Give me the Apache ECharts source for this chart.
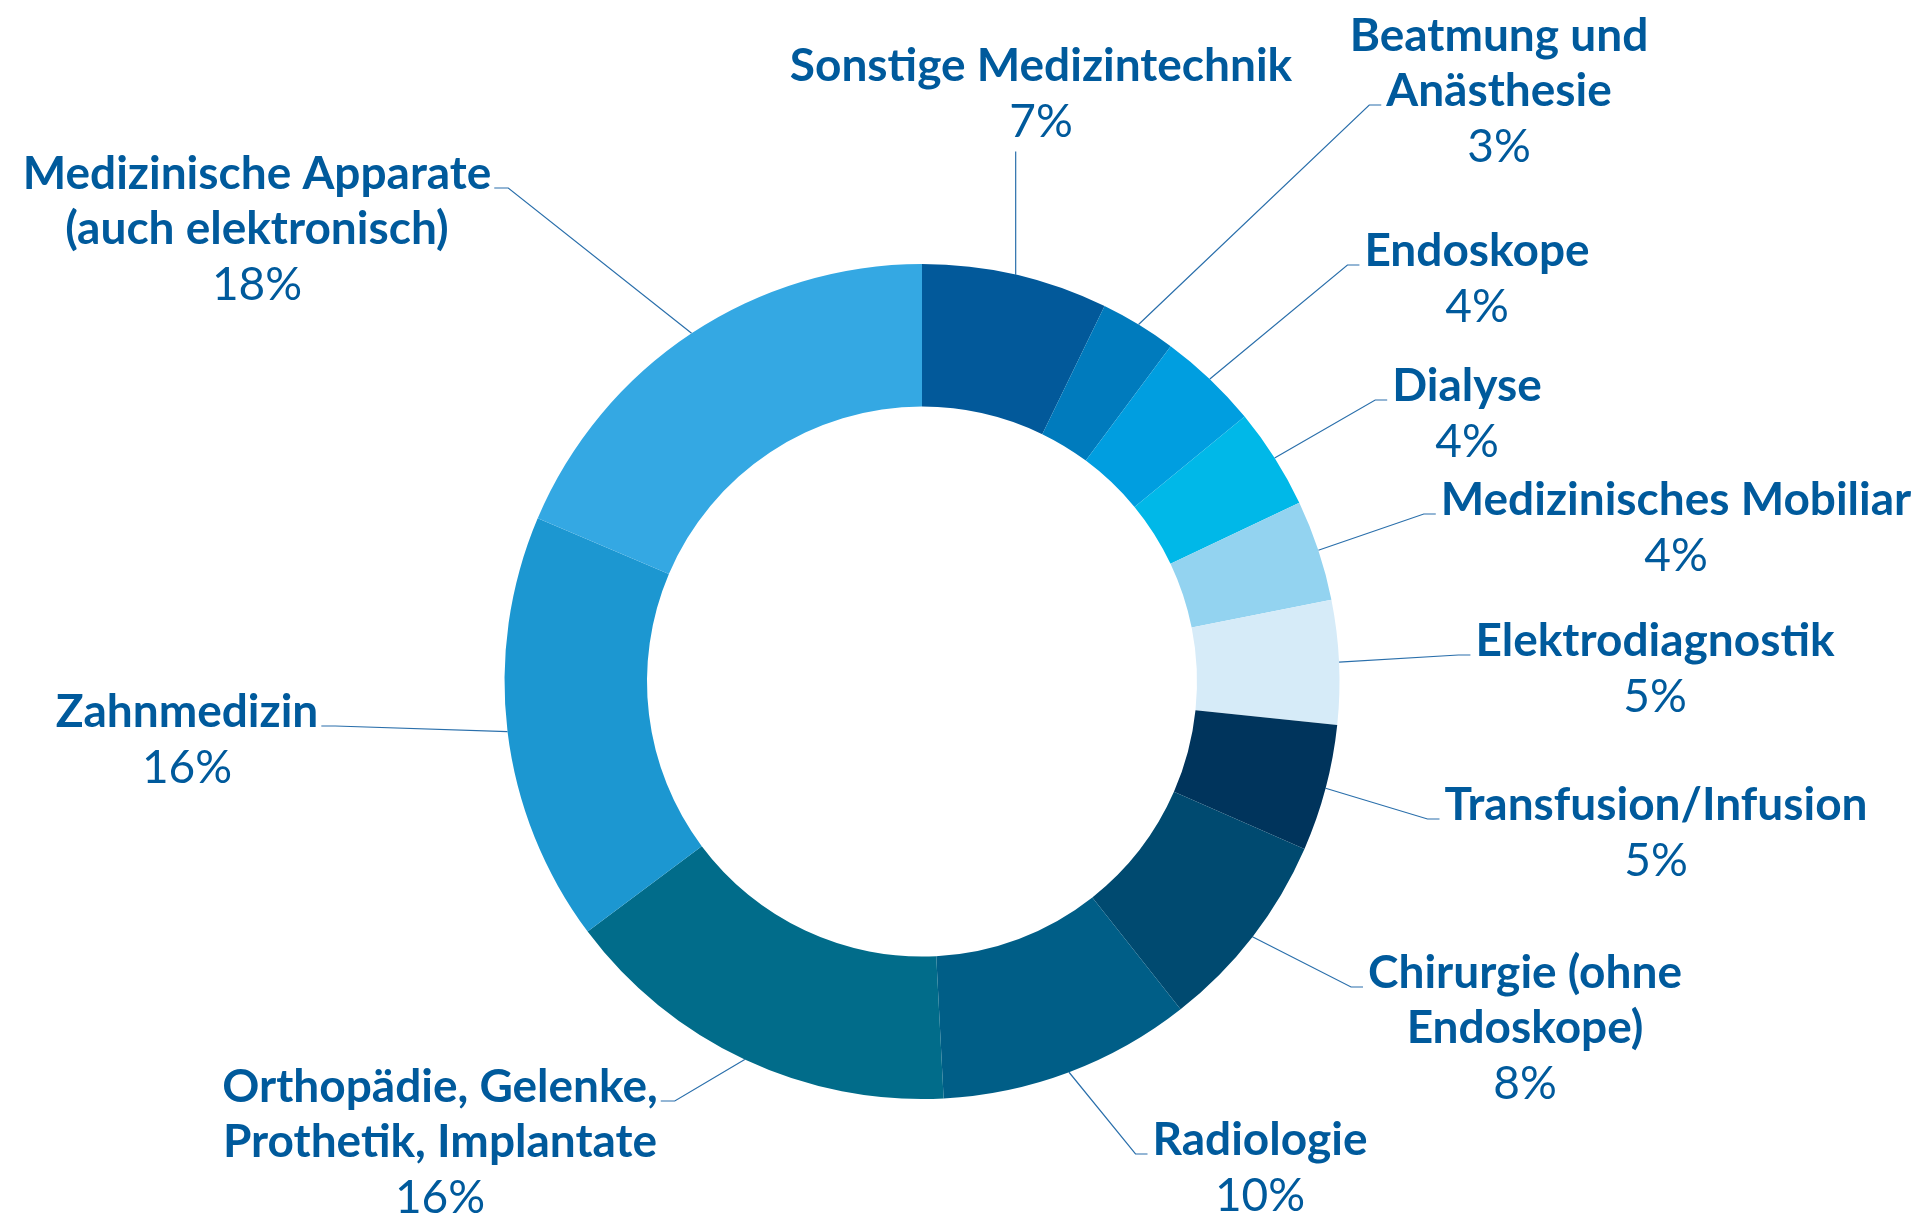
<!DOCTYPE html>
<html>
<head>
<meta charset="utf-8">
<title>Medizintechnik nach Produktgruppen</title>
<script src="https://cdn.jsdelivr.net/npm/echarts@6/dist/echarts.min.js"></script>
<style>
  html, body { margin: 0; padding: 0; background: #fff; }
  #chart { width: 1922px; height: 1215px; }
</style>
</head>
<body>
<div id="chart"></div>
<script>
// Segmente im Uhrzeigersinn ab 12 Uhr
var names = [
    'Sonstige Medizintechnik',
    'Beatmung und\nAnästhesie',
    'Endoskope',
    'Dialyse',
    'Medizinisches Mobiliar',
    'Elektrodiagnostik',
    'Transfusion/Infusion',
    'Chirurgie (ohne\nEndoskope)',
    'Radiologie',
    'Orthopädie, Gelenke,\nProthetik, Implantate',
    'Zahnmedizin',
    'Medizinische Apparate\n(auch elektronisch)'
];
var shares = [7.2, 2.95, 3.9, 3.9, 3.9, 4.8, 4.9, 7.8, 9.8, 15.6, 16.6, 18.6];
// beschriftete Prozentwerte
var pctLabels = [7, 3, 4, 4, 4, 5, 5, 8, 10, 16, 16, 18];

var colors = ['#02599a', '#007bbd', '#009ee0', '#00b8e8', '#93d3f0', '#d6ebf8',
              '#00345c', '#004a70', '#005e87', '#016c8a', '#1c97d1', '#34a8e3'];

// Beschriftung: Mitte x, Mitte erste Zeile y, Anschluss der Linie, Zeile fuer die Linie
var labelSpots = [
    [1041, 66, 'bottom', 0],
    [1499, 36, 'left', 1],
    [1477, 251, 'left', 0],
    [1467, 386, 'left', 0],
    [1676, 500, 'left', 0],
    [1655, 641, 'left', 0],
    [1656, 805, 'left', 0],
    [1525, 973, 'left', 0],
    [1260, 1140, 'left', 0],
    [440, 1087, 'right', 0],
    [187, 712, 'right', 0],
    [257, 174, 'right', 0]
];

var FONT = 'Lato';
var TEXT = '#005a9c';
var LINE = '#2a6fab';
var FS = 46, LH = 55, LH_PCT = 57;

var measure = document.createElement('canvas').getContext('2d');
measure.font = 'bold ' + FS + 'px ' + FONT;

function layoutLabel(params) {
    var i = params.dataIndex;
    var spot = labelSpots[i];
    var lines = names[i].split('\n');
    var top = spot[1] - LH / 2;
    var res = { x: spot[0], y: top, align: 'center', verticalAlign: 'top' };
    var start = params.labelLinePoints && params.labelLinePoints[0];
    if (!start) return res;
    var end, knee;
    if (spot[2] === 'bottom') {
        end = [start[0], top + lines.length * LH + LH_PCT + 1];
        knee = end;
    } else {
        var w = measure.measureText(lines[spot[3]]).width;
        var ly = spot[1] + spot[3] * LH + 14;
        if (spot[2] === 'left') {
            end = [spot[0] - w / 2 - 5, ly];
            knee = [end[0] - 12, ly];
        } else {
            end = [spot[0] + w / 2 + 3, ly];
            knee = [end[0] + 14, ly];
        }
    }
    res.labelLinePoints = [start, knee, end];
    return res;
}

var chart = echarts.init(document.getElementById('chart'));
var option = {
    animation: false,
    color: colors,
    series: [{
        type: 'pie',
        center: [922, 681.5],
        radius: [275, 417.5],
        startAngle: 90,
        clockwise: true,
        avoidLabelOverlap: false,
        emphasis: { disabled: true },
        itemStyle: { borderWidth: 0 },
        label: {
            show: true,
            position: 'outside',
            formatter: function (p) {
                var i = p.dataIndex;
                return names[i].split('\n').map(function (s) {
                    return '{n|' + s + '}';
                }).join('\n') + '\n{p|' + pctLabels[i] + '%}';
            },
            rich: {
                n: { fontFamily: FONT, fontWeight: 'bold', fontSize: FS, lineHeight: LH, color: TEXT, align: 'center' },
                p: { fontFamily: FONT, fontWeight: 'normal', fontSize: FS, lineHeight: LH_PCT, color: TEXT, align: 'center' }
            }
        },
        labelLine: {
            show: true,
            length: 10,
            length2: 10,
            lineStyle: { color: LINE, width: 1.2 }
        },
        labelLayout: layoutLabel,
        data: names.map(function (n, i) {
            return { name: n, value: shares[i] };
        })
    }]
};
chart.setOption(option);
</script>
</body>
</html>
